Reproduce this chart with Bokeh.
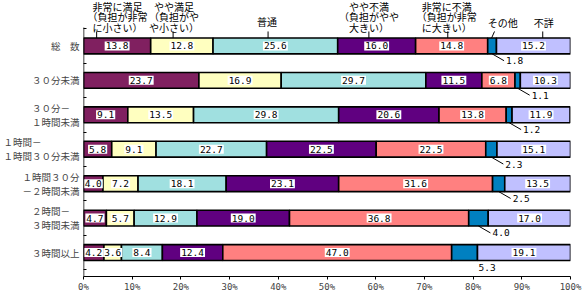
from bokeh.plotting import figure
from bokeh.models import Range1d, FixedTicker, ColumnDataSource
from bokeh.core.properties import value
from bokeh.embed import file_html
from bokeh.resources import INLINE

# ---- data ----
categories = ["総　数", "３０分未満", "３０分－　\n１時間未満", "１時間－　　　　\n１時間３０分未満",
              "１時間３０分\n－２時間未満", "２時間－　\n３時間未満", "３時間以上"]
series_names = ["非常に満足\n（負担が非常\nに小さい）", "やや満足\n（負担がや\nや小さい）", "普通",
                "やや不満\n（負担がやや\n大きい）", "非常に不満\n（負担が非常\nに大きい）", "その他", "不詳"]
very_satisfied = [13.8, 23.7, 9.1, 5.8, 4.0, 4.7, 4.2]
somewhat_satisfied = [12.8, 16.9, 13.5, 9.1, 7.2, 5.7, 3.6]
neutral = [25.6, 29.7, 29.8, 22.7, 18.1, 12.9, 8.4]
somewhat_dissatisfied = [16.0, 11.5, 20.6, 22.5, 23.1, 19.0, 12.4]
very_dissatisfied = [14.8, 6.8, 13.8, 22.5, 31.6, 36.8, 47.0]
other = [1.8, 1.1, 1.2, 2.3, 2.5, 4.0, 5.3]
unknown = [15.2, 10.3, 11.9, 15.1, 13.5, 17.0, 19.1]
x_ticks = [0, 10, 20, 30, 40, 50, 60, 70, 80, 90, 100]
x_tick_labels = ["0%", "10%", "20%", "30%", "40%", "50%", "60%", "70%", "80%", "90%", "100%"]

# ---- style ----
colors = ["#802060", "#FFFFC0", "#A0E0E0", "#600080", "#FF8080", "#0080C0", "#C0C0FF"]
header_x = [7.0, 18.6, 37.7, 58.6, 74.6, 86.1, 94.5]
header_bottom_y = [0.536, 0.536, 0.71, 0.536, 0.536, 0.68, 0.68]   # centre of last text line
LINE_STEP = 10.5 / 34.5
leader_x0 = [2.7, 18.4, 37.9, 58.6, 74.8, 84.4, 94.3]
leader_x1 = [2.7, 18.4, 37.9, 58.6, 74.8, 83.8, 94.3]
show_other_leader = [True, True, True, True, True, True, False]
JP = "Noto Sans CJK JP"
MONO = "DejaVu Sans Mono"
BAR_H = 0.46
AXIS_TOP = 0.536
Y_START, Y_END = -6.696, 1.319

series = [very_satisfied, somewhat_satisfied, neutral, somewhat_dissatisfied,
          very_dissatisfied, other, unknown]
n = len(categories)
ys = [-i for i in range(n)]

p = figure(width=585, height=295, x_range=Range1d(0, 100), y_range=Range1d(Y_START, Y_END),
           output_backend="svg", toolbar_location=None,
           min_border_left=82, min_border_right=15, min_border_top=0, min_border_bottom=19)
p.outline_line_color = None
p.xgrid.visible = False
p.ygrid.visible = False

cum = [0.0] * n
mids_all = []
for j, vals in enumerate(series):
    left = cum[:]
    right = [l + v for l, v in zip(left, vals)]
    p.hbar(y=ys, left=left, right=right, height=BAR_H, fill_color=colors[j],
           line_color="black", line_width=1.6)
    mids_all.append([(l + r) / 2 for l, r in zip(left, right)])
    cum = right

# inside value labels
for j, vals in enumerate(series):
    if j == 5:
        continue
    src = ColumnDataSource(dict(x=mids_all[j], y=ys, t=[f"{v:.1f}" for v in vals]))
    p.text(x="x", y="y", text="t", source=src, text_align="center", text_baseline="middle",
           text_font=value(MONO), text_font_size="9.5px", text_color="black",
           background_fill_color="white", padding=1)

# outside labels for "その他"
bot = BAR_H / 2
dx = 2.46
dy = 0.2
lx0, ly0, lx1, ly1 = [], [], [], []
for i in range(n):
    if show_other_leader[i]:
        lx0.append(mids_all[5][i]); ly0.append(ys[i] - bot)
        lx1.append(mids_all[5][i] + dx); ly1.append(ys[i] - bot - dy)
p.segment(x0=lx0, y0=ly0, x1=lx1, y1=ly1, line_color="black", line_width=1)
p.text(x=[m + dx for m in mids_all[5]], y=[y - bot - dy for y in ys],
       text=[f"{v:.1f}" for v in other], x_offset=2, text_align="left", text_baseline="middle",
       text_font=value(MONO), text_font_size="9.5px", text_color="black")

# header labels (one text per line) & leaders
hx, hy, ht = [], [], []
for x0, yb, name in zip(header_x, header_bottom_y, series_names):
    lines = name.split("\n")
    K = len(lines)
    for k, line in enumerate(lines):
        hx.append(x0)
        hy.append(yb + (K - 1 - k) * LINE_STEP)
        ht.append(line)
p.text(x=hx, y=hy, text=ht, text_align="center", text_baseline="middle",
       text_font=value(JP), text_font_size="10px", text_color="black")
p.segment(x0=leader_x0, y0=[0.42] * 7, x1=leader_x1, y1=[bot] * 7, line_color="black", line_width=1)

# y axis line (drawn only over the category area)
p.segment(x0=[0], y0=[AXIS_TOP], x1=[0], y1=[Y_START], line_color="black", line_width=1.5)

# axes
p.xaxis.ticker = FixedTicker(ticks=x_ticks)
p.xaxis.major_label_overrides = dict(zip(x_ticks, x_tick_labels))
p.xaxis.major_label_text_font = MONO
p.xaxis.major_label_text_font_size = "9px"
p.xaxis.major_tick_out = 3
p.xaxis.major_tick_in = 0
p.xaxis.minor_tick_line_color = None
p.xaxis.major_label_standoff = 2
p.xaxis.axis_line_width = 1

p.yaxis.ticker = FixedTicker(ticks=ys, minor_ticks=[0.5 - k for k in range(n + 1)])
p.yaxis.major_label_overrides = dict(zip(ys, categories))
p.yaxis.major_label_text_font = JP
p.yaxis.major_label_text_font_size = "9.5px"
p.yaxis.major_label_text_line_height = 1.0
p.yaxis.axis_line_color = None
p.yaxis.major_tick_line_color = None
p.yaxis.major_tick_out = 0
p.yaxis.major_tick_in = 0
p.yaxis.minor_tick_in = 3
p.yaxis.minor_tick_out = 0
p.yaxis.major_label_standoff = 4

open("out.html", "w").write(file_html(p, INLINE))
